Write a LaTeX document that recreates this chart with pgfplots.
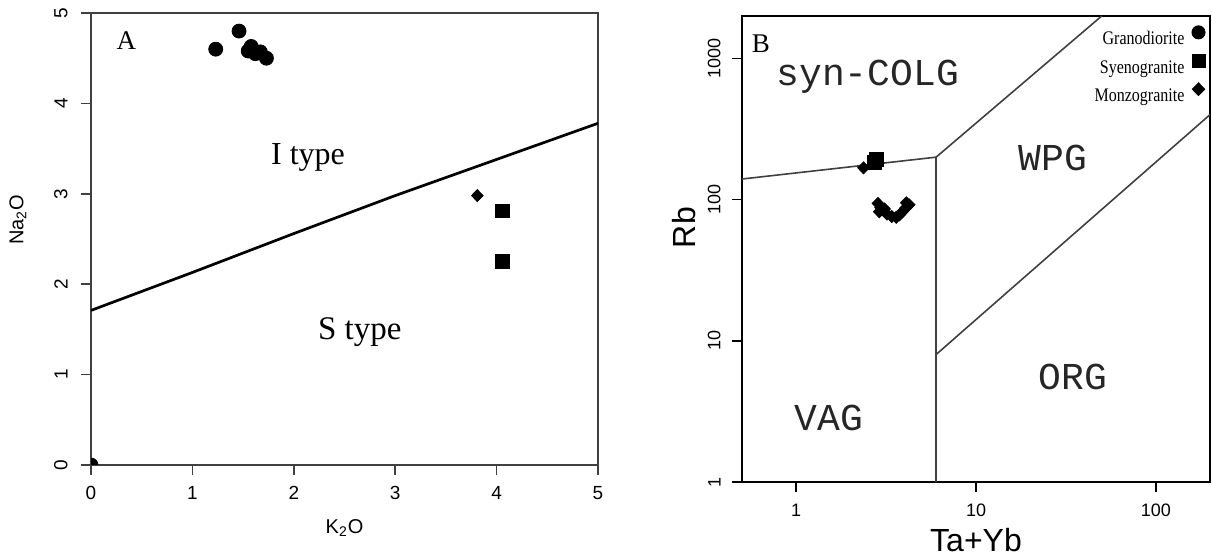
\documentclass[border=0pt]{standalone}
\usepackage{fontspec}
\setmainfont{Liberation Serif}
\setsansfont{Liberation Sans}
\setmonofont{Liberation Mono}
\usepackage{graphicx}
\usepackage{pgfplots}
\pgfplotsset{compat=1.18}
\begin{document}
\begin{tikzpicture}
\path[use as bounding box] (0,0) rectangle (606bp,277.5bp);
% ---------------- Panel A ----------------
\begin{axis}[
  at={(45.5bp,45bp)}, anchor=south west,
  scale only axis, width=253.5bp, height=226bp,
  xmin=0, xmax=5, ymin=0, ymax=5,
  xtick={0,1,2,3,4,5}, ytick={0,1,2,3,4,5},
  tick align=outside, xtick pos=left, ytick pos=left,
  major tick length=5bp,
  axis line style={draw=black!75, line width=0.75bp},
  xtick style={draw=black!75, line width=0.8bp},
  ytick style={draw=black!75, line width=0.8bp},
  /pgf/number format/assume math mode=true,
  ticklabel style={font=\fontsize{9.5bp}{11bp}\sffamily},
  xticklabel style={yshift=-5.5bp, anchor=north, inner sep=0pt},
  yticklabel style={xshift=-6.5bp, rotate=90, anchor=south, inner sep=0pt},
  clip marker paths=true,
  xlabel={K\textsubscript{2}O}, ylabel={Na\textsubscript{2}O},
  label style={font=\fontsize{10bp}{12bp}\sffamily, inner sep=0pt},
  xlabel style={at={(axis description cs:0.5,-0.1385)}, anchor=center},
  ylabel style={at={(axis description cs:-0.144,0.542)}, anchor=center},
]
\addplot[black, line width=1.35bp] coordinates {(0,1.71) (1,2.13) (2,2.56) (3,2.98) (4,3.38) (5,3.78)};
\addplot[only marks, mark=*, mark size=3.5bp, black] coordinates {
  (1.23,4.60) (1.46,4.80) (1.55,4.58) (1.58,4.63) (1.62,4.55) (1.67,4.57) (1.73,4.50) (0,0)};
\addplot[only marks, mark=diamond*, mark size=3bp, mark options={xscale=1.3}, black] coordinates {(3.81,2.98)};
\addplot[only marks, mark=square*, mark size=3.4bp, black] coordinates {(4.06,2.81) (4.06,2.25)};
\node[font=\fontsize{13.5bp}{16bp}\rmfamily] at (axis cs:0.35,4.69) {A};
\node[font=\fontsize{16bp}{19bp}\rmfamily] at (axis cs:2.14,3.40) {I type};
\node[font=\fontsize{16.5bp}{19bp}\rmfamily] at (axis cs:2.65,1.47) {S type};
\end{axis}
% ---------------- Panel B ----------------
\begin{axis}[
  at={(371bp,36.5bp)}, anchor=south west,
  scale only axis, width=234bp, height=233bp,
  xmode=log, ymode=log,
  xmin=0.5, xmax=200, ymin=1, ymax=2000,
  xtick={1,10,100}, xticklabels={1,10,100},
  ytick={1,10,100,1000}, yticklabels={1,10,100,1000},
  xminorticks=false, yminorticks=false,
  tick align=outside, xtick pos=left, ytick pos=left,
  major tick length=5bp,
  axis line style={draw=black, line width=0.75bp},
  xtick style={draw=black, line width=0.8bp},
  ytick style={draw=black, line width=0.8bp},
  ticklabel style={font=\fontsize{9bp}{11bp}\sffamily},
  xticklabel style={yshift=-6bp, anchor=north, inner sep=0pt},
  yticklabel style={xshift=-5.5bp, rotate=90, anchor=south, inner sep=0pt},
  xlabel={Ta+Yb}, ylabel={Rb},
  label style={font=\fontsize{16bp}{19bp}\sffamily, inner sep=0pt},
  xlabel style={at={(axis description cs:0.5,-0.124)}, anchor=center},
  ylabel style={at={(axis description cs:-0.124,0.546)}, anchor=center},
  legend cell align=right, legend plot pos=right,
  legend image code/.code={\draw[mark repeat=2,mark phase=2] plot coordinates {(0bp,3bp)(3.75bp,3bp)(7.5bp,3bp)};},
  legend style={at={(axis description cs:1,1)}, anchor=north east, xshift=-2.25bp, yshift=-4.7bp,
    draw=none, fill=none, inner sep=0pt, row sep=3.25bp, column sep=3.75bp,
    font=\fontsize{8bp}{9bp}\rmfamily,
    nodes={inner sep=0pt, text height=8bp, text depth=1.5bp}},
]
\addlegendimage{only marks, mark=*, mark size=3.3bp, black}
\addlegendentry{\scalebox{1}[1.2]{Granodiorite}}
\addlegendimage{only marks, mark=square*, mark size=3.2bp, black}
\addlegendentry{\scalebox{1}[1.2]{Syenogranite}}
\addlegendimage{only marks, mark=diamond*, mark size=3.2bp, mark options={xscale=1.3}, black}
\addlegendentry{\scalebox{1}[1.2]{Monzogranite}}
\addplot[forget plot, black!75, line width=0.8bp] coordinates {(0.5,140) (6,200)};
\addplot[forget plot, black!75, line width=0.8bp] coordinates {(6,1) (6,200)};
\addplot[forget plot, black!75, line width=0.8bp] coordinates {(6,200) (50,2000)};
\addplot[forget plot, black!75, line width=0.8bp] coordinates {(6,8) (200,400)};
\addplot[forget plot, only marks, mark=diamond*, mark size=3bp, mark options={xscale=1.3}, black] coordinates {
  (2.37,168)
  (2.85,94) (2.95,88) (2.9,82) (3.1,86) (3.2,79) (3.4,76) (3.6,75) (3.75,78)
  (3.9,82) (4.05,87) (4.25,92) (4.1,95)};
\addplot[forget plot, only marks, mark=square*, mark size=3.5bp, black] coordinates {(2.74,185) (2.78,192)};
\node[font=\fontsize{13.5bp}{16bp}\rmfamily] at (axis cs:0.636,1283) {B};
\node[font=\fontsize{19bp}{22bp}\ttfamily, text=black!85] at (axis cs:2.5,748) {syn-COLG};
\node[font=\fontsize{19bp}{22bp}\ttfamily, text=black!85] at (axis cs:26.8,197) {WPG};
\node[font=\fontsize{19bp}{22bp}\ttfamily, text=black!85] at (axis cs:34.7,5.57) {ORG};
\node[font=\fontsize{19bp}{22bp}\ttfamily, text=black!85] at (axis cs:1.52,2.84) {VAG};
\end{axis}
\end{tikzpicture}
\end{document}
